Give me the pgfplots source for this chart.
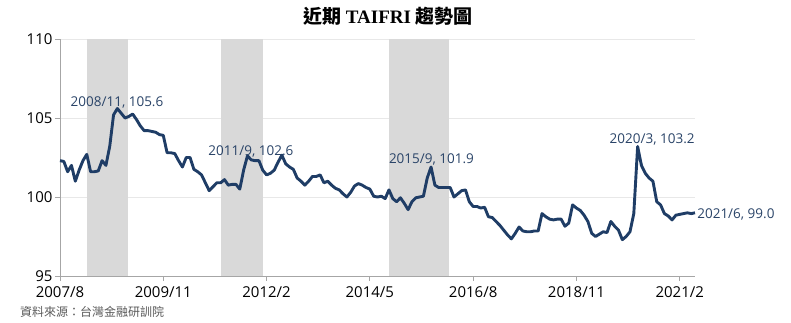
\documentclass[border=0pt]{standalone}
\usepackage{fontspec}
\setmainfont{Open Sans}
\newfontfamily\cjk{Noto Sans CJK TC}
\newfontfamily\tnr{Liberation Serif}
\usepackage{pgfplots}
\pgfplotsset{compat=1.18}
\usepackage{pgfplotstable}
\definecolor{navy}{HTML}{1F3D66}
\definecolor{lbl}{HTML}{2A4468}
\definecolor{band}{HTML}{D9D9D9}
\definecolor{gridc}{HTML}{E8E8E8}
\definecolor{axc}{HTML}{A6A6A6}

\pgfplotstableread{
m v
0 102.3
1 102.25
2 101.6
3 102.0
4 101.0
5 101.7
6 102.3
7 102.7
8 101.6
9 101.6
10 101.65
11 102.3
12 102.0
13 103.2
14 105.2
15 105.6
16 105.3
17 105.0
18 105.1
19 105.25
20 104.9
21 104.5
22 104.2
23 104.2
24 104.15
25 104.1
26 103.95
27 103.9
28 102.8
29 102.8
30 102.75
31 102.3
32 101.9
33 102.5
34 102.5
35 101.75
36 101.6
37 101.4
38 100.9
39 100.4
40 100.65
41 100.9
42 100.9
43 101.1
44 100.75
45 100.8
46 100.8
47 100.5
48 101.7
49 102.6
50 102.35
51 102.3
52 102.3
53 101.7
54 101.4
55 101.5
56 101.7
57 102.2
58 102.65
59 102.1
60 101.9
61 101.75
62 101.2
63 101.0
64 100.75
65 101.0
66 101.3
67 101.3
68 101.4
69 100.9
70 101.0
71 100.75
72 100.55
73 100.45
74 100.2
75 100.0
76 100.3
77 100.7
78 100.85
79 100.75
80 100.6
81 100.5
82 100.05
83 100.0
84 100.05
85 99.9
86 100.45
87 99.9
88 99.7
89 99.95
90 99.6
91 99.2
92 99.7
93 99.95
94 100.0
95 100.05
96 101.2
97 101.9
98 100.75
99 100.6
100 100.6
101 100.6
102 100.6
103 100.0
104 100.2
105 100.4
106 100.45
107 99.7
108 99.4
109 99.4
110 99.3
111 99.35
112 98.75
113 98.7
114 98.45
115 98.2
116 97.9
117 97.6
118 97.35
119 97.7
120 98.1
121 97.85
122 97.8
123 97.8
124 97.85
125 97.85
126 98.95
127 98.75
128 98.6
129 98.55
130 98.6
131 98.6
132 98.15
133 98.35
134 99.5
135 99.3
136 99.15
137 98.85
138 98.45
139 97.7
140 97.5
141 97.65
142 97.8
143 97.75
144 98.45
145 98.15
146 97.9
147 97.3
148 97.5
149 97.8
150 98.95
151 103.2
152 102.0
153 101.5
154 101.2
155 101.0
156 99.7
157 99.5
158 98.95
159 98.8
160 98.55
161 98.85
162 98.9
163 98.95
164 99.0
165 98.95
166 99.0
}\taifri

\begin{document}
\begin{tikzpicture}[x=1pt,y=1pt]
\useasboundingbox (0,0) rectangle (791,322);
\begin{axis}[
  at={(60pt,46pt)}, anchor=south west,
  scale only axis, width=635pt, height=237pt,
  xmin=0, xmax=166, ymin=95, ymax=110,
  xtick={0,27,54,81,108,135,162},
  xticklabels={2007/8,2009/11,2012/2,2014/5,2016/8,2018/11,2021/2},
  ytick={95,100,105,110},
  axis x line*=bottom, axis y line*=left,
  ymajorgrids, grid style={gridc, line width=0.8pt},
  axis line style={axc, line width=1pt},
  tick style={axc, line width=1pt},
  major tick length=5pt,
  tick align=outside,
  tick label style={font=\fontsize{15}{15}\selectfont, text=black},
  xticklabel style={yshift=-4pt, inner ysep=1pt},
  yticklabel style={xshift=1pt},
  /pgf/number format/assume math mode=true,
  clip=false,
]
\addplot[draw=none, fill=band, forget plot] coordinates {(7.1,95) (7.1,110) (17.9,110) (17.9,95)} -- cycle;
\addplot[draw=none, fill=band, forget plot] coordinates {(42.0,95) (42.0,110) (53.0,110) (53.0,95)} -- cycle;
\addplot[draw=none, fill=band, forget plot] coordinates {(85.9,95) (85.9,110) (101.8,110) (101.8,95)} -- cycle;
\addplot[navy, line width=2.9pt, line join=round, mark=none] table[x=m,y=v]{\taifri};
\begin{scope}[every node/.style={text=lbl, font=\fontsize{13.5}{13.5}\selectfont}]
\node at (axis cs:14.9,106.0) {2008/11, 105.6};
\node at (axis cs:49.9,102.9) {2011/9, 102.6};
\node at (axis cs:97.1,102.4) {2015/9, 101.9};
\node at (axis cs:154.8,103.67) {2020/3, 103.2};
\node[anchor=west, inner sep=1pt] at (axis cs:166.3,98.9) {2021/6, 99.0};
\end{scope}
\end{axis}
\node at (388,306) {\fontsize{19}{19}\selectfont\cjk\bfseries 近期 {\tnr\bfseries TAIFRI} 趨勢圖};
\node[anchor=west, text=black!65, inner sep=0pt] at (20,10.5) {\fontsize{12}{12}\selectfont\cjk 資料來源：台灣金融研訓院};
\end{tikzpicture}
\end{document}
